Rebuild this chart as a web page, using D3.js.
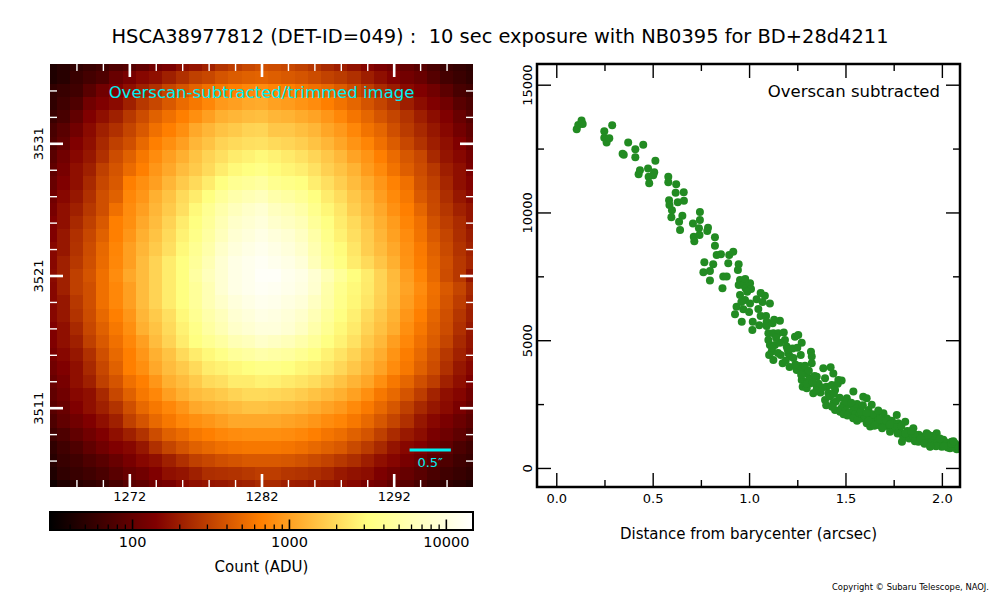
<!DOCTYPE html>
<html>
<head>
<meta charset="utf-8">
<script src="https://cdnjs.cloudflare.com/ajax/libs/d3/7.8.5/d3.min.js"></script>
<style>
  body { margin: 0; background: #fff; }
  svg { display: block; font-family: "DejaVu Sans", sans-serif; }
</style>
</head>
<body>
<svg id="chart" width="1000" height="600"></svg>
<script>
const title = "HSCA38977812 (DET-ID=049) :  10 sec exposure with NB0395 for BD+28d4211";

// pixel centres of the cut-out (columns left->right, rows top->bottom)
const pixelX = [1266,1267,1268,1269,1270,1271,1272,1273,1274,1275,1276,1277,1278,1279,1280,1281,1282,
                1283,1284,1285,1286,1287,1288,1289,1290,1291,1292,1293,1294,1295,1296,1297,1298];
const pixelY = [3537,3536,3535,3534,3533,3532,3531,3530,3529,3528,3527,3526,3525,3524,3523,3522,3521,
                3520,3519,3518,3517,3516,3515,3514,3513,3512,3511,3510,3509,3508,3507,3506,3505];

// counts (ADU), one row per pixelY
const counts = [
  [44,49,54,59,65,78,84,98,118,133,165,181,212,263,298,337,371,359,337,307,272,232,205,176,151,133,118,101,86,72,61,56,51],
  [44,49,59,69,78,107,129,155,171,209,255,307,337,394,433,460,475,446,419,394,359,317,289,255,205,171,146,121,107,84,69,61,54],
  [54,59,65,89,118,142,171,209,255,327,394,475,555,609,668,734,781,711,668,609,555,506,433,359,298,240,199,160,142,118,92,72,65],
  [54,65,78,118,142,160,209,280,337,419,522,609,734,912,985,1099,1134,1001,941,857,781,668,572,490,394,327,263,205,165,142,118,89,76],
  [61,72,98,142,171,209,280,359,460,555,668,806,985,1206,1300,1400,1440,1300,1244,1134,1033,884,734,591,490,394,327,263,205,165,142,107,84],
  [72,89,118,160,209,255,327,419,555,668,806,1099,1300,1520,1650,1850,1900,1600,1600,1440,1300,1065,912,734,572,490,371,289,232,187,155,121,98],
  [78,98,142,171,232,307,371,506,668,806,985,1300,1520,1850,2000,2150,2200,2000,1900,1740,1520,1300,1065,857,711,555,433,337,263,205,171,142,107],
  [89,118,155,187,255,359,460,609,781,985,1206,1520,1850,2150,2500,2700,2950,2700,2440,2200,1900,1600,1330,1033,857,668,522,407,337,232,181,155,125],
  [98,129,171,209,307,394,522,668,884,1099,1400,1650,2000,2500,2950,3200,3500,3030,2780,2570,2200,1790,1520,1244,941,757,572,446,359,280,205,171,133],
  [107,142,171,232,337,419,668,806,985,1300,1650,2000,2500,3200,3950,4300,4750,3840,3500,3200,2570,2150,1740,1400,1134,884,690,555,382,307,225,171,146],
  [118,155,187,255,371,460,734,884,1206,1520,2000,2500,3200,4300,5300,5950,6600,5300,4750,4080,3200,2500,2050,1600,1300,970,757,609,419,337,247,187,155],
  [129,171,209,280,371,555,781,985,1300,1650,2150,2950,3950,5300,6600,7700,8600,6850,6150,5100,3720,2860,2320,1740,1400,1099,831,668,490,348,272,212,181],
  [142,171,232,307,419,668,806,1099,1400,1850,2500,3200,4300,5950,7700,8600,9600,8000,7100,6150,4300,3300,2500,2000,1560,1206,941,711,555,382,298,240,181],
  [142,187,255,337,460,668,884,1206,1520,2000,2700,3500,4750,6600,8600,9600,10800,9600,8600,7100,5100,3600,2700,2150,1700,1300,1001,781,572,419,327,247,199],
  [155,187,263,359,506,711,985,1300,1650,2150,2950,3950,5300,7700,9600,10800,12000,10800,9600,8000,5700,3950,3030,2320,1740,1400,1099,831,629,460,348,263,212],
  [155,209,280,371,522,734,985,1400,1850,2500,3200,4300,5950,8600,10800,12000,13000,12000,10800,9250,6350,4300,3300,2500,2000,1560,1206,857,648,490,371,280,225],
  [160,209,307,394,555,781,1099,1400,1850,2500,3200,4750,6600,8600,10800,12000,13600,13600,12000,10800,8600,6150,4300,3120,2500,1850,1370,970,711,506,359,280,181],
  [155,209,307,371,555,734,985,1400,1850,2500,3200,4300,5950,8600,10800,12000,13000,12500,11600,10300,8300,5300,3720,2950,2440,1850,1400,1033,781,555,419,327,232],
  [155,187,280,371,555,734,985,1400,1850,2500,3200,4300,5950,7700,9600,10800,12000,11600,10300,9250,7100,5100,3600,2860,2320,1790,1370,970,734,538,394,298,212],
  [155,187,263,359,506,668,884,1300,1650,2150,2950,3950,5300,6600,8600,9600,10800,10300,9250,8000,6150,4450,3300,2640,2000,1600,1244,884,668,490,371,272,205],
  [142,171,232,337,460,609,806,1206,1520,2000,2700,3500,4750,5950,7700,8600,9600,9600,8600,7100,5300,3950,2950,2440,1850,1480,1170,806,609,460,359,255,187],
  [142,171,209,307,419,555,734,985,1400,1850,2500,3200,3950,4750,5950,6600,7700,7100,6350,5300,4300,3300,2700,2200,1650,1330,970,734,555,433,327,232,181],
  [129,155,187,255,371,506,668,884,1206,1520,2000,2500,2950,3500,4300,4750,5300,4900,4600,3950,3300,2700,2260,1850,1440,1170,857,648,506,382,280,212,171],
  [118,142,171,232,337,460,668,806,1099,1400,1650,2000,2500,2700,2950,3200,3500,3500,3200,2860,2640,2320,1950,1600,1300,1033,781,609,460,359,255,187,155],
  [107,129,171,209,307,394,555,668,884,1206,1400,1650,2000,2150,2500,2500,2700,2640,2440,2260,2050,1790,1520,1270,1065,806,609,490,371,298,212,171,137],
  [98,118,155,171,232,337,460,609,734,985,1206,1400,1520,1650,1850,2000,2000,1950,1850,1700,1520,1370,1206,1001,806,609,506,394,298,218,171,151,118],
  [89,107,142,171,209,263,371,506,609,734,884,1099,1206,1300,1400,1520,1520,1440,1400,1300,1170,1033,912,757,629,506,407,307,232,187,160,133,104],
  [78,98,118,142,171,209,307,394,506,609,734,806,884,985,1099,1099,1099,1099,1033,970,884,781,711,609,506,407,327,255,187,155,133,111,92],
  [65,78,98,118,142,171,209,263,359,460,522,609,668,734,781,806,806,806,781,734,668,591,538,460,394,307,240,193,165,133,114,95,78],
  [54,65,78,98,118,142,155,187,255,327,394,460,506,555,591,609,609,609,591,555,506,460,419,348,289,232,181,155,142,114,95,76,65],
  [49,59,65,78,89,107,129,155,171,209,255,307,337,371,394,419,419,419,407,382,348,317,280,247,205,171,151,129,111,89,78,65,59],
  [44,54,59,65,74,89,107,118,142,171,181,209,247,255,263,280,298,298,272,263,247,225,193,176,165,137,118,104,89,74,65,59,54],
  [36,44,49,54,59,72,89,98,118,129,155,171,181,187,199,209,232,232,205,199,187,181,171,155,129,118,98,89,72,59,54,49,43]
];

const imageTicksX = [1272, 1282, 1292];
const imageTicksY = [3511, 3521, 3531];
const colorbarTicks = [100, 1000, 10000];
const profileTicksX = [0, 0.5, 1.0, 1.5, 2.0];
const profileTicksY = [0, 5000, 10000, 15000];

// radial profile: [distance (arcsec), count (ADU)]
const profilePoints = [
  [0.106,13260],[0.114,13420],[0.131,13600],[0.137,13460],[0.249,13180],[0.249,12920],[0.261,12740],[0.275,12900],
  [0.290,13410],[0.344,12300],[0.350,12260],[0.373,12740],[0.410,12470],[0.410,12160],[0.451,12650],[0.427,11500],
  [0.434,11650],[0.476,11720],[0.482,11140],[0.479,11400],[0.503,11460],[0.508,11570],[0.514,12020],[0.581,11400],
  [0.581,11180],[0.622,11100],[0.619,10770],[0.661,10790],[0.662,10460],[0.585,10480],[0.587,10290],[0.600,10090],
  [0.597,9810],[0.630,10400],[0.654,9870],[0.637,9640],[0.642,9310],[0.709,9570],[0.713,9050],[0.716,8870],
  [0.740,9380],[0.745,10020],[0.745,9700],[0.743,9120],[0.787,9400],[0.783,9270],[0.823,9030],[0.823,8700],
  [0.768,8050],[0.763,7660],[0.797,7710],[0.797,7340],[0.814,7970],[0.832,8330],[0.854,8360],[0.892,8010],
  [0.897,8330],[0.918,8460],[0.866,7490],[0.862,7030],[0.884,7490],[0.946,7970],[0.942,7750],[0.953,7360],
  [0.946,7160],[0.970,7160],[0.982,7030],[1.005,7230],[0.953,6770],[1.039,6600],[1.082,6740],[1.108,6440],
  [0.935,6310],[0.927,6020],[0.962,5720],[0.970,6210],[0.979,6570],[1.005,6440],[1.048,6220],[1.060,5950],
  [1.088,5950],[1.091,5720],[1.019,5720],[1.017,5400],[1.053,5590],[1.091,5560],[1.122,5660],[1.160,5760],
  [1.100,5270],[1.126,5270],[1.151,5270],[1.100,5010],[1.108,4810],[1.134,4810],[1.117,4550],[1.104,4420],
  [1.126,4230],[1.164,4420],[1.174,4100],[1.186,5010],[1.195,4750],[1.203,4490],[1.212,4360],[1.226,4680],
  [1.238,5140],[1.255,5200],[1.273,4900],[1.268,4420],[1.247,3830],[1.264,3990],[1.281,3830],[1.299,3700],
  [1.321,4550],[1.325,4360],[1.273,3440],[1.278,3180],[1.299,3120],[1.316,3310],[1.333,2920],[1.325,3510],
  [1.351,3570],[1.325,4100],[1.351,3180],[1.385,3900],[1.423,3940],[1.437,3700],[1.394,3510],[1.402,3180],
  [1.394,2660],[1.411,2920],[1.429,3250],[1.446,3050],[1.463,3440],[1.480,3420],[1.437,2530],[1.446,2270],
  [1.472,2200],[1.490,2470],[1.507,2730],[1.524,2470],[1.541,2270],[1.567,2340],[1.541,2990],[1.558,2010],
  [1.584,1940],[1.592,2790],[1.610,2730],[1.619,2270],[1.636,2470],[1.610,1750],[1.628,1620],[1.644,1880],
  [1.662,2010],[1.671,1680],[1.689,1810],[1.697,2140],[1.715,1940],[1.724,1620],[1.731,1420],[1.749,1750],
  [1.766,2070],[1.774,1750],[1.784,1360],[1.793,1030],[1.810,1810],[1.819,1230],[1.834,1360],[1.852,1550],
  [1.861,1160],[1.878,1030],[1.895,1230],[1.921,1360],[1.929,1030],[1.939,830],[1.956,1160],[1.973,1360],
  [1.981,970],[1.999,830],[2.008,1100],[2.025,900],[2.042,770],[2.050,1030],[2.068,900],[2.077,730],
  [1.36,3300],[1.34,3600],[1.31,3450],[1.37,2950],[1.45,2600],[1.48,2350],[1.50,2250],[1.52,2150],
  [1.55,2100],[1.57,2050],[1.60,2000],[1.63,1900],[1.66,1700],[1.70,1650],[1.72,1750],[1.75,1550],
  [1.78,1500],[1.80,1200],[1.83,1150],[1.85,1250],[1.87,1100],[1.90,1050],[1.92,1150],[1.94,1000],
  [1.96,900],[1.98,1050],[2.00,950],[2.02,1000],[2.04,850],[2.06,800],[2.08,850],[1.88,1300],
  [1.91,1200],[1.95,1250],[2.03,800],[2.07,950],[1.46,3300],[1.42,2800],[1.50,2600],[1.56,2500],
  [1.58,2200],[1.64,2100],[1.68,1900],[1.74,1850],[1.76,1600],[1.82,1450],[1.86,1300],[1.16,4900],
  [1.14,5100],[1.20,4650],[1.23,4300],[1.25,4700],[1.29,4000],[1.31,3800],[1.18,5300],[1.13,5800],
  [1.07,6500],[1.06,6850],[1.01,7000],[0.99,6900],[0.96,6500],[1.00,6100],[0.98,7400],
  [1.12,4700],[1.15,4500],[1.19,4200],[1.21,3950],[1.24,4050],[1.27,3650],[1.30,3300],[1.33,3350],
  [1.35,3050],[1.38,3150],[1.40,2450],[1.43,2400],[1.44,2900],[1.47,2750],[1.49,2100],[1.51,2050],
  [1.53,2550],[1.54,1950],[1.56,1850],[1.59,2450],[1.61,2150],[1.62,1850],[1.65,1650],[1.67,2250],
  [1.69,1550],[1.71,1850],[1.73,1700],[1.77,1350],[1.79,1650],[1.81,1350],[1.84,1450],[1.86,1050],
  [1.89,1150],[1.91,950],[1.93,1300],[1.97,850],[1.99,1150],[2.01,850],[2.05,950],[2.09,800],
  [2.06,1050],[1.94,850]
];

const pixelScale = 0.16; // arcsec per pixel, for the scale bar

// matplotlib-like afmhot colormap
function afmhot(t) {
  const c = v => Math.round(255 * Math.max(0, Math.min(1, v)));
  return `rgb(${c(2 * t)},${c(2 * t - 0.5)},${c(2 * t - 1)})`;
}

const svg = d3.select("#chart");
const font = '"DejaVu Sans", sans-serif';

const img = {left: 50, top: 64, size: 423};
const prof = {left: 537, top: 64, width: 423, height: 423};
const bar = {left: 50, top: 512, width: 423, height: 18};

const xImg = d3.scaleLinear().domain([1266, 1298]).range([img.left, img.left + img.size]);
const yImg = d3.scaleLinear().domain([3505, 3537]).range([img.top + img.size, img.top]);
const color = d3.scaleSequentialLog(afmhot).domain([30, 14900]);

const defs = svg.append("defs");
defs.append("clipPath").attr("id", "imgClip").append("rect")
  .attr("x", img.left).attr("y", img.top).attr("width", img.size).attr("height", img.size);
defs.append("clipPath").attr("id", "profClip").append("rect")
  .attr("x", prof.left).attr("y", prof.top).attr("width", prof.width).attr("height", prof.height);

// title
svg.append("text")
  .attr("x", 500).attr("y", 43).attr("text-anchor", "middle")
  .attr("font-size", 19).attr("textLength", 777).attr("lengthAdjust", "spacingAndGlyphs")
  .style("white-space", "pre")
  .text(title);

// ---- image panel
const cells = [];
counts.forEach((row, i) => row.forEach((v, j) => cells.push({x: pixelX[j], y: pixelY[i], v: v})));
const cw = xImg(1) - xImg(0);
svg.append("g").attr("clip-path", "url(#imgClip)")
  .attr("shape-rendering", "crispEdges")
  .selectAll("rect").data(cells).join("rect")
  .attr("x", d => xImg(d.x - 0.5))
  .attr("y", d => yImg(d.y + 0.5))
  .attr("width", cw + 0.6)
  .attr("height", cw + 0.6)
  .attr("fill", d => color(d.v));

function styleAxis(g, stroke, width, fontSize) {
  g.select(".domain").remove();
  g.attr("font-family", font).attr("font-size", fontSize);
  g.selectAll(".tick line").attr("stroke", stroke).attr("stroke-width", width);
  g.selectAll(".tick text").attr("fill", "#000");
}

function rotateLabels(g, offset) {
  g.selectAll(".tick text")
    .attr("transform", "rotate(-90)")
    .attr("text-anchor", "middle")
    .attr("x", 0).attr("y", -offset).attr("dy", 0);
}

const imgMinorX = d3.range(1268, 1297, 2).filter(v => !imageTicksX.includes(v));
const imgMinorY = d3.range(3507, 3536, 2).filter(v => !imageTicksY.includes(v));
const imgBottom = img.top + img.size, imgRight = img.left + img.size;

[[d3.axisBottom, imgBottom], [d3.axisTop, img.top]].forEach(([ax, y], k) => {
  svg.append("g").attr("transform", `translate(0,${y})`)
    .call(ax(xImg).tickValues(imgMinorX).tickSize(-7).tickFormat(""))
    .call(g => styleAxis(g, "#fff", 1.4, 13));
  svg.append("g").attr("transform", `translate(0,${y})`)
    .call(ax(xImg).tickValues(imageTicksX).tickSize(-13).tickPadding(5)
      .tickFormat(k === 0 ? d3.format("d") : ""))
    .call(g => styleAxis(g, "#fff", 2.6, 13));
});
[[d3.axisLeft, img.left], [d3.axisRight, imgRight]].forEach(([ax, x], k) => {
  svg.append("g").attr("transform", `translate(${x},0)`)
    .call(ax(yImg).tickValues(imgMinorY).tickSize(-7).tickFormat(""))
    .call(g => styleAxis(g, "#fff", 1.4, 13));
  svg.append("g").attr("transform", `translate(${x},0)`)
    .call(ax(yImg).tickValues(imageTicksY).tickSize(-13)
      .tickFormat(k === 0 ? d3.format("d") : ""))
    .call(g => styleAxis(g, "#fff", 2.6, 13))
    .call(g => { if (k === 0) rotateLabels(g, 7); });
});

svg.append("text")
  .attr("x", img.left + img.size / 2).attr("y", 98).attr("text-anchor", "middle")
  .attr("font-size", 16.5).attr("fill", "#00f0f0")
  .text("Overscan-subtracted/trimmed image");

// scale bar of 0.5 arcsec
const barX0 = 1293.2;
const barX1 = barX0 + 0.5 / pixelScale;
svg.append("line")
  .attr("x1", xImg(barX0)).attr("x2", xImg(barX1))
  .attr("y1", 450).attr("y2", 450)
  .attr("stroke", "#00f0f0").attr("stroke-width", 3);
svg.append("text")
  .attr("x", (xImg(barX0) + xImg(barX1)) / 2).attr("y", 467).attr("text-anchor", "middle")
  .attr("font-size", 13).attr("fill", "#00f0f0")
  .text("0.5\u2033");

// ---- colour bar
const xBar = d3.scaleLog().domain(color.domain()).range([bar.left, bar.left + bar.width]);
const grad = defs.append("linearGradient").attr("id", "cbar")
  .attr("x1", "0%").attr("x2", "100%").attr("y1", "0%").attr("y2", "0%");
d3.range(0, 65).forEach(i => {
  grad.append("stop").attr("offset", `${(i / 64) * 100}%`).attr("stop-color", afmhot(i / 64));
});
svg.append("rect")
  .attr("x", bar.left).attr("y", bar.top).attr("width", bar.width).attr("height", bar.height)
  .attr("fill", "url(#cbar)");

const barMinor = [];
[10, 100, 1000, 10000].forEach(dec => {
  for (let m = 2; m <= 9; m++) {
    const v = dec * m;
    if (v >= 30 && v <= 14900) barMinor.push(v);
  }
});
const barBottom = bar.top + bar.height;
svg.append("g").attr("transform", `translate(0,${barBottom})`)
  .call(d3.axisBottom(xBar).tickValues(barMinor).tickSize(-5.5).tickFormat(""))
  .call(g => styleAxis(g, "#000", 1.3, 14.5));
svg.append("g").attr("transform", `translate(0,${barBottom})`)
  .call(d3.axisBottom(xBar).tickValues(colorbarTicks).tickSize(-10.5).tickPadding(6.5).tickFormat(d3.format("d")))
  .call(g => styleAxis(g, "#000", 1.6, 14.5));
svg.append("rect")
  .attr("x", bar.left).attr("y", bar.top).attr("width", bar.width).attr("height", bar.height)
  .attr("fill", "none").attr("stroke", "#000").attr("stroke-width", 2);
svg.append("text")
  .attr("x", bar.left + bar.width / 2).attr("y", 572).attr("text-anchor", "middle")
  .attr("font-size", 15).text("Count (ADU)");

// ---- radial profile panel
const xProf = d3.scaleLinear().domain([-0.1, 2.094]).range([prof.left, prof.left + prof.width]);
const yProf = d3.scaleLinear().domain([-745, 15810]).range([prof.top + prof.height, prof.top]);

svg.append("g").attr("clip-path", "url(#profClip)")
  .selectAll("circle").data(profilePoints).join("circle")
  .attr("cx", d => xProf(d[0]))
  .attr("cy", d => yProf(d[1]))
  .attr("r", 4)
  .attr("fill", "#228b22");

const profMinorX = [0.25, 0.75, 1.25, 1.75];
const profMinorY = [2500, 7500, 12500];
const profBottom = prof.top + prof.height, profRight = prof.left + prof.width;

[[d3.axisBottom, profBottom], [d3.axisTop, prof.top]].forEach(([ax, y], k) => {
  svg.append("g").attr("transform", `translate(0,${y})`)
    .call(ax(xProf).tickValues(profMinorX).tickSize(-7).tickFormat(""))
    .call(g => styleAxis(g, "#000", 1.4, 13));
  svg.append("g").attr("transform", `translate(0,${y})`)
    .call(ax(xProf).tickValues(profileTicksX).tickSize(-14).tickPadding(7)
      .tickFormat(k === 0 ? d3.format(".1f") : ""))
    .call(g => styleAxis(g, "#000", 1.4, 13));
});
[[d3.axisLeft, prof.left], [d3.axisRight, profRight]].forEach(([ax, x], k) => {
  svg.append("g").attr("transform", `translate(${x},0)`)
    .call(ax(yProf).tickValues(profMinorY).tickSize(-7).tickFormat(""))
    .call(g => styleAxis(g, "#000", 1.4, 13));
  svg.append("g").attr("transform", `translate(${x},0)`)
    .call(ax(yProf).tickValues(profileTicksY).tickSize(-14)
      .tickFormat(k === 0 ? d3.format("d") : ""))
    .call(g => styleAxis(g, "#000", 1.4, 13))
    .call(g => { if (k === 0) rotateLabels(g, 5); });
});

svg.append("rect")
  .attr("x", prof.left).attr("y", prof.top).attr("width", prof.width).attr("height", prof.height)
  .attr("fill", "none").attr("stroke", "#000").attr("stroke-width", 2.5);

svg.append("text")
  .attr("x", 940).attr("y", 97).attr("text-anchor", "end")
  .attr("font-size", 16.5).text("Overscan subtracted");

svg.append("text")
  .attr("x", prof.left + prof.width / 2).attr("y", 539).attr("text-anchor", "middle")
  .attr("font-size", 15).text("Distance from barycenter (arcsec)");

svg.append("text")
  .attr("x", 989).attr("y", 590).attr("text-anchor", "end")
  .attr("font-size", 9).attr("textLength", 157).attr("lengthAdjust", "spacingAndGlyphs")
  .text("Copyright \u00a9 Subaru Telescope, NAOJ.");
</script>
</body>
</html>
